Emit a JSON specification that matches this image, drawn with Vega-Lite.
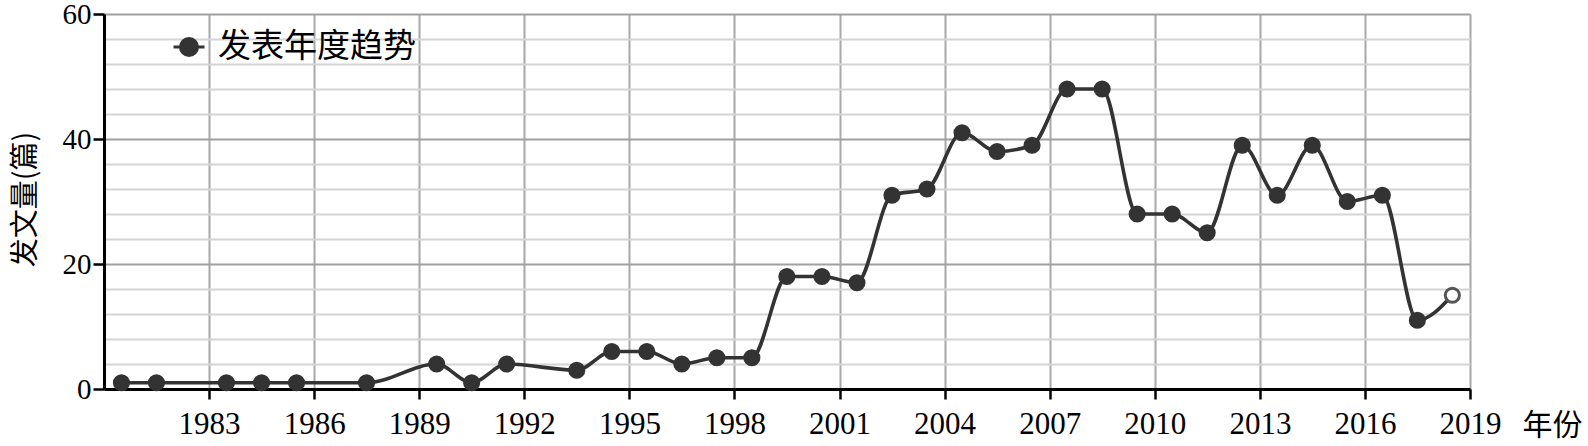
{
  "$schema": "https://vega.github.io/schema/vega-lite/v6.json",
  "width": 1366,
  "height": 375,
  "autosize": {"type": "none"},
  "padding": {"left": 104, "top": 14, "right": 118, "bottom": 57},
  "background": "white",
  "data": {
    "values": [
      {"年份": "1980-07-01", "发文量": 1, "类型": "发表年度趋势", "预测": false},
      {"年份": "1981-07-01", "发文量": 1, "类型": "发表年度趋势", "预测": false},
      {"年份": "1983-07-01", "发文量": 1, "类型": "发表年度趋势", "预测": false},
      {"年份": "1984-07-01", "发文量": 1, "类型": "发表年度趋势", "预测": false},
      {"年份": "1985-07-01", "发文量": 1, "类型": "发表年度趋势", "预测": false},
      {"年份": "1987-07-01", "发文量": 1, "类型": "发表年度趋势", "预测": false},
      {"年份": "1989-07-01", "发文量": 4, "类型": "发表年度趋势", "预测": false},
      {"年份": "1990-07-01", "发文量": 1, "类型": "发表年度趋势", "预测": false},
      {"年份": "1991-07-01", "发文量": 4, "类型": "发表年度趋势", "预测": false},
      {"年份": "1993-07-01", "发文量": 3, "类型": "发表年度趋势", "预测": false},
      {"年份": "1994-07-01", "发文量": 6, "类型": "发表年度趋势", "预测": false},
      {"年份": "1995-07-01", "发文量": 6, "类型": "发表年度趋势", "预测": false},
      {"年份": "1996-07-01", "发文量": 4, "类型": "发表年度趋势", "预测": false},
      {"年份": "1997-07-01", "发文量": 5, "类型": "发表年度趋势", "预测": false},
      {"年份": "1998-07-01", "发文量": 5, "类型": "发表年度趋势", "预测": false},
      {"年份": "1999-07-01", "发文量": 18, "类型": "发表年度趋势", "预测": false},
      {"年份": "2000-07-01", "发文量": 18, "类型": "发表年度趋势", "预测": false},
      {"年份": "2001-07-01", "发文量": 17, "类型": "发表年度趋势", "预测": false},
      {"年份": "2002-07-01", "发文量": 31, "类型": "发表年度趋势", "预测": false},
      {"年份": "2003-07-01", "发文量": 32, "类型": "发表年度趋势", "预测": false},
      {"年份": "2004-07-01", "发文量": 41, "类型": "发表年度趋势", "预测": false},
      {"年份": "2005-07-01", "发文量": 38, "类型": "发表年度趋势", "预测": false},
      {"年份": "2006-07-01", "发文量": 39, "类型": "发表年度趋势", "预测": false},
      {"年份": "2007-07-01", "发文量": 48, "类型": "发表年度趋势", "预测": false},
      {"年份": "2008-07-01", "发文量": 48, "类型": "发表年度趋势", "预测": false},
      {"年份": "2009-07-01", "发文量": 28, "类型": "发表年度趋势", "预测": false},
      {"年份": "2010-07-01", "发文量": 28, "类型": "发表年度趋势", "预测": false},
      {"年份": "2011-07-01", "发文量": 25, "类型": "发表年度趋势", "预测": false},
      {"年份": "2012-07-01", "发文量": 39, "类型": "发表年度趋势", "预测": false},
      {"年份": "2013-07-01", "发文量": 31, "类型": "发表年度趋势", "预测": false},
      {"年份": "2014-07-01", "发文量": 39, "类型": "发表年度趋势", "预测": false},
      {"年份": "2015-07-01", "发文量": 30, "类型": "发表年度趋势", "预测": false},
      {"年份": "2016-07-01", "发文量": 31, "类型": "发表年度趋势", "预测": false},
      {"年份": "2017-07-01", "发文量": 11, "类型": "发表年度趋势", "预测": false},
      {"年份": "2018-07-01", "发文量": 15, "类型": "发表年度趋势", "预测": true}
    ]
  },
  "config": {
    "view": {"stroke": null},
    "axisX": {
      "domainColor": "#000000",
      "domainWidth": 3,
      "tickColor": "#000000",
      "tickWidth": 2.5,
      "tickSize": 10,
      "labelFont": "Liberation Serif",
      "labelFontSize": 31,
      "labelColor": "#000000",
      "labelPadding": 10,
      "labelFlush": false,
      "labelOverlap": false,
      "grid": true,
      "gridColor": "#a8a8a8",
      "gridWidth": 2,
      "titleFont": "Liberation Serif, Noto Sans CJK SC",
      "titleFontSize": 30,
      "titleFontWeight": "normal",
      "titleColor": "#000000"
    }
  },
  "resolve": {"axis": {"y": "independent"}},
  "layer": [
    {
      "mark": {"type": "line", "interpolate": "monotone", "stroke": "#333333", "strokeWidth": 3.6},
      "encoding": {
        "x": {
          "field": "年份",
          "type": "temporal",
          "scale": {"type": "utc", "domain": [{"year": 1980, "utc": true}, {"year": 2019, "utc": true}]},
          "axis": {
            "values": [{"year": 1983, "utc": true}, {"year": 1986, "utc": true}, {"year": 1989, "utc": true}, {"year": 1992, "utc": true}, {"year": 1995, "utc": true}, {"year": 1998, "utc": true}, {"year": 2001, "utc": true}, {"year": 2004, "utc": true}, {"year": 2007, "utc": true}, {"year": 2010, "utc": true}, {"year": 2013, "utc": true}, {"year": 2016, "utc": true}, {"year": 2019, "utc": true}],
            "format": "%Y",
            "title": "年份",
            "titleX": 1418,
            "titleY": 36,
            "titleAlign": "left",
            "titleAnchor": null,
            "titleBaseline": "middle"
          }
        },
        "y": {
          "field": "发文量",
          "type": "quantitative",
          "scale": {"domain": [0, 60], "nice": false},
          "axis": {
            "orient": "left",
            "values": [4, 8, 12, 16, 24, 28, 32, 36, 44, 48, 52, 56],
            "grid": true,
            "gridColor": "#d4d4d4",
            "gridWidth": 2,
            "labels": false,
            "ticks": false,
            "domain": false,
            "title": null
          }
        },
        "color": {
          "field": "类型",
          "type": "nominal",
          "scale": {"range": ["#333333"]},
          "legend": {
            "title": null,
            "orient": "none",
            "legendX": 68,
            "legendY": 16,
            "padding": 0,
            "symbolType": "M-1,0H1M-0.55,0A0.55,0.55 0 1,0 0.55,0A0.55,0.55 0 1,0 -0.55,0Z",
            "symbolSize": 961,
            "symbolStrokeWidth": 3,
            "labelFont": "Noto Sans CJK SC",
            "labelFontSize": 33,
            "labelColor": "#000000",
            "labelOffset": 12,
            "labelLimit": 400,
            "encode": {
              "symbols": {"update": {"fill": {"value": "#333333"}, "stroke": {"value": "#333333"}, "opacity": {"value": 1}}}
            }
          }
        }
      }
    },
    {
      "mark": {"type": "point", "filled": false, "opacity": 1, "strokeWidth": 3},
      "encoding": {
        "x": {
          "field": "年份",
          "type": "temporal",
          "scale": {"type": "utc", "domain": [{"year": 1980, "utc": true}, {"year": 2019, "utc": true}]},
          "axis": {
            "values": [{"year": 1983, "utc": true}, {"year": 1986, "utc": true}, {"year": 1989, "utc": true}, {"year": 1992, "utc": true}, {"year": 1995, "utc": true}, {"year": 1998, "utc": true}, {"year": 2001, "utc": true}, {"year": 2004, "utc": true}, {"year": 2007, "utc": true}, {"year": 2010, "utc": true}, {"year": 2013, "utc": true}, {"year": 2016, "utc": true}, {"year": 2019, "utc": true}],
            "format": "%Y",
            "title": "年份",
            "titleX": 1418,
            "titleY": 36,
            "titleAlign": "left",
            "titleAnchor": null,
            "titleBaseline": "middle"
          }
        },
        "y": {
          "field": "发文量",
          "type": "quantitative",
          "scale": {"domain": [0, 60], "nice": false},
          "axis": {
            "orient": "left",
            "values": [0, 20, 40, 60],
            "grid": true,
            "gridColor": "#a0a0a0",
            "gridWidth": 2,
            "domainColor": "#000000",
            "domainWidth": 3,
            "tickColor": "#000000",
            "tickWidth": 2.5,
            "tickSize": 11,
            "labelFont": "Liberation Serif",
            "labelFontSize": 29,
            "labelColor": "#000000",
            "labelPadding": 2,
            "title": "发文量(篇)",
            "titleFont": "Noto Sans CJK SC",
            "titleFontSize": 29,
            "titleFontWeight": "normal",
            "titleColor": "#000000",
            "titleAngle": 270,
            "titleX": -79,
            "titleY": 185,
            "titleAlign": "center",
            "titleBaseline": "middle",
            "titleAnchor": null
          }
        },
        "size": {"value": 200},
        "shape": {"value": "circle"},
        "fill": {"condition": {"test": "datum['预测']", "value": "#ffffff"}, "value": "#333333"},
        "stroke": {"condition": {"test": "datum['预测']", "value": "#555555"}, "value": "#333333"}
      }
    }
  ]
}
